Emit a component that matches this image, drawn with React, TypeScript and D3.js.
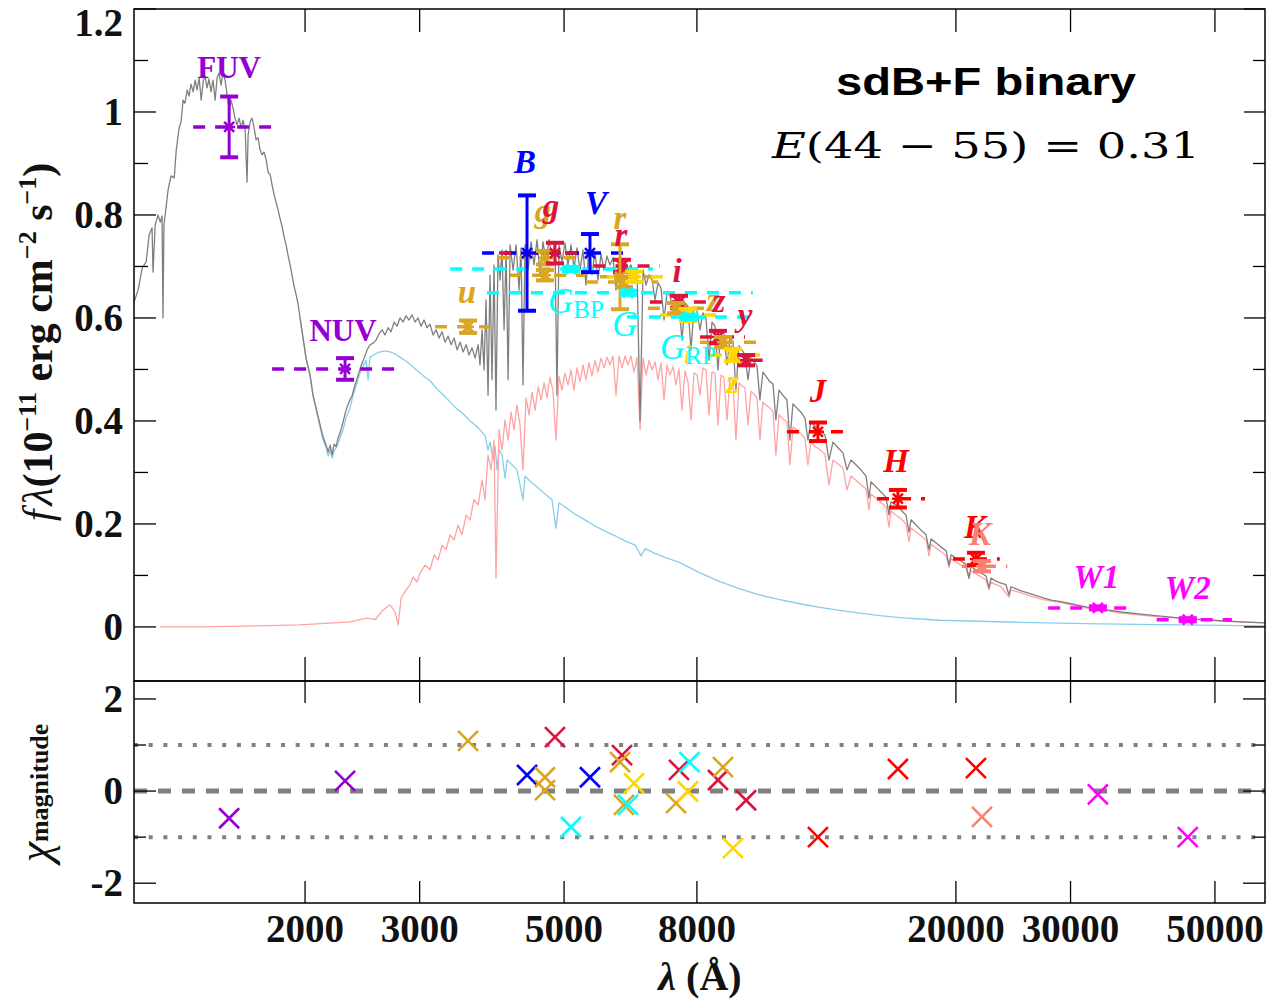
import React from "react";
import * as d3 from "d3";

// ---------------- DATA ----------------
// composite model (sdB + F), [wavelength Å, f_lambda 1e-11]
const compositeModel: [number, number][] = [[1092,0.631],[1108,0.654],[1124,0.697],[1140,0.709],[1152,0.761],[1164,0.775],[1168,0.689],[1177,0.781],[1189,0.800],[1198,0.786],[1206,0.798],[1210,0.600],[1214,0.781],[1223,0.814],[1232,0.849],[1245,0.876],[1259,0.872],[1268,0.926],[1281,0.969],[1290,0.981],[1299,1.023],[1308,1.017],[1318,1.043],[1327,1.031],[1336,1.054],[1346,1.039],[1356,1.062],[1365,1.043],[1375,1.066],[1385,1.023],[1395,1.060],[1404,1.070],[1414,1.047],[1424,1.064],[1434,1.039],[1444,1.062],[1455,1.023],[1465,1.066],[1475,1.076],[1486,1.052],[1496,1.078],[1507,1.062],[1518,1.033],[1529,1.004],[1539,1.023],[1550,1.008],[1561,0.988],[1572,0.975],[1584,0.988],[1595,0.969],[1606,0.984],[1618,0.965],[1629,0.864],[1635,0.955],[1647,0.981],[1658,0.988],[1670,0.969],[1682,0.946],[1694,0.950],[1706,0.926],[1718,0.917],[1730,0.922],[1743,0.907],[1755,0.883],[1768,0.878],[1780,0.858],[1793,0.839],[1805,0.825],[1818,0.810],[1830,0.794],[1843,0.779],[1856,0.759],[1870,0.742],[1883,0.722],[1897,0.703],[1910,0.683],[1924,0.662],[1938,0.645],[1951,0.627],[1965,0.600],[1986,0.561],[2007,0.522],[2036,0.489],[2057,0.450],[2087,0.417],[2110,0.392],[2132,0.369],[2155,0.353],[2170,0.340],[2186,0.353],[2201,0.334],[2217,0.355],[2232,0.350],[2248,0.367],[2264,0.377],[2288,0.398],[2312,0.421],[2337,0.437],[2362,0.449],[2387,0.470],[2413,0.489],[2438,0.507],[2465,0.522],[2491,0.538],[2517,0.548],[2544,0.551],[2571,0.557],[2598,0.569],[2626,0.577],[2654,0.567],[2683,0.581],[2711,0.573],[2740,0.592],[2769,0.584],[2799,0.600],[2829,0.592],[2859,0.604],[2890,0.596],[2920,0.606],[2951,0.592],[2983,0.600],[3015,0.584],[3047,0.596],[3079,0.581],[3112,0.588],[3146,0.567],[3179,0.577],[3213,0.561],[3247,0.573],[3282,0.553],[3317,0.565],[3353,0.548],[3389,0.561],[3425,0.538],[3462,0.553],[3499,0.534],[3536,0.548],[3573,0.528],[3611,0.542],[3650,0.522],[3689,0.548],[3714,0.509],[3741,0.577],[3767,0.499],[3794,0.635],[3821,0.450],[3848,0.683],[3875,0.480],[3903,0.703],[3930,0.421],[3958,0.722],[3987,0.674],[4015,0.732],[4044,0.577],[4073,0.732],[4102,0.480],[4131,0.742],[4175,0.693],[4219,0.742],[4264,0.654],[4294,0.736],[4324,0.470],[4355,0.742],[4402,0.693],[4449,0.748],[4496,0.703],[4544,0.752],[4592,0.684],[4641,0.748],[4691,0.709],[4741,0.752],[4791,0.717],[4842,0.746],[4876,0.450],[4911,0.742],[4963,0.709],[5016,0.746],[5070,0.703],[5124,0.742],[5178,0.697],[5234,0.736],[5290,0.693],[5346,0.732],[5403,0.664],[5461,0.732],[5519,0.684],[5578,0.728],[5638,0.674],[5698,0.724],[5759,0.693],[5820,0.720],[5883,0.703],[5945,0.717],[6009,0.654],[6073,0.713],[6138,0.684],[6203,0.709],[6269,0.693],[6336,0.703],[6404,0.674],[6473,0.697],[6542,0.400],[6612,0.693],[6683,0.664],[6754,0.684],[6826,0.674],[6898,0.635],[6972,0.668],[7046,0.658],[7121,0.596],[7197,0.650],[7273,0.643],[7351,0.616],[7429,0.639],[7508,0.631],[7588,0.557],[7670,0.629],[7751,0.623],[7834,0.538],[7918,0.619],[8002,0.614],[8087,0.577],[8174,0.610],[8261,0.600],[8349,0.518],[8438,0.592],[8528,0.584],[8619,0.499],[8710,0.577],[8804,0.569],[8897,0.509],[8992,0.561],[9088,0.553],[9185,0.460],[9283,0.546],[9383,0.538],[9483,0.528],[9584,0.480],[9686,0.522],[9790,0.515],[9894,0.507],[9998,0.441],[10105,0.495],[10213,0.487],[10358,0.476],[10469,0.472],[10580,0.402],[10694,0.460],[10845,0.450],[11000,0.441],[11117,0.363],[11236,0.433],[11397,0.425],[11558,0.417],[11722,0.406],[11848,0.363],[11974,0.398],[12145,0.390],[12362,0.383],[12583,0.373],[12763,0.324],[12945,0.359],[13176,0.348],[13412,0.338],[13603,0.305],[13797,0.324],[14043,0.315],[14294,0.305],[14550,0.293],[14704,0.250],[14810,0.282],[15075,0.272],[15344,0.262],[15618,0.252],[15785,0.217],[15898,0.243],[16182,0.237],[16471,0.227],[16765,0.217],[16941,0.184],[17065,0.208],[17370,0.198],[17680,0.188],[17996,0.179],[18180,0.150],[18318,0.171],[18645,0.163],[18979,0.155],[19318,0.148],[19514,0.120],[19663,0.140],[20000,0.134],[20357,0.128],[20720,0.122],[20940,0.095],[21091,0.117],[21468,0.111],[21852,0.105],[22242,0.099],[22480,0.076],[22640,0.095],[23045,0.089],[23457,0.085],[23876,0.082],[24130,0.062],[24303,0.078],[24737,0.074],[25179,0.070],[26086,0.064],[27025,0.058],[27998,0.052],[29007,0.049],[30052,0.045],[31130,0.041],[32250,0.037],[33410,0.035],[35850,0.029],[38480,0.025],[41290,0.021],[44320,0.017],[47560,0.014],[51060,0.012],[54790,0.010],[59690,0.008]];

// hot subdwarf (sdB) model
const sdbModel: [number, number][] = [[1965,0.600],[2007,0.522],[2036,0.487],[2057,0.449],[2087,0.414],[2110,0.386],[2132,0.363],[2155,0.348],[2170,0.332],[2186,0.344],[2201,0.328],[2217,0.342],[2239,0.350],[2264,0.367],[2288,0.383],[2312,0.406],[2345,0.425],[2370,0.450],[2404,0.474],[2430,0.493],[2456,0.507],[2482,0.518],[2500,0.480],[2517,0.524],[2563,0.530],[2608,0.534],[2655,0.536],[2702,0.534],[2750,0.530],[2799,0.524],[2869,0.515],[2931,0.505],[3004,0.493],[3058,0.485],[3112,0.478],[3191,0.462],[3271,0.449],[3341,0.437],[3425,0.423],[3499,0.414],[3585,0.400],[3650,0.392],[3714,0.383],[3781,0.371],[3821,0.344],[3848,0.359],[3889,0.324],[3917,0.351],[3945,0.305],[3972,0.344],[4015,0.334],[4058,0.289],[4087,0.324],[4159,0.315],[4233,0.305],[4324,0.247],[4355,0.293],[4433,0.283],[4544,0.272],[4674,0.258],[4791,0.247],[4859,0.192],[4911,0.241],[5016,0.233],[5197,0.219],[5384,0.208],[5578,0.196],[5780,0.186],[5988,0.177],[6203,0.167],[6428,0.159],[6566,0.138],[6659,0.152],[6898,0.143],[7146,0.135],[7534,0.125],[8087,0.105],[8679,0.088],[9315,0.074],[9998,0.062],[10730,0.053],[11517,0.045],[12360,0.038],[13266,0.032],[14238,0.027],[15282,0.022],[16402,0.018],[18894,0.013],[21765,0.011],[25072,0.009],[33270,0.006],[44149,0.004],[59690,0.002]];

// F-type companion model
const fStarModel: [number, number][] = [[1198,0.000],[1379,0.000],[1688,0.002],[1965,0.004],[2208,0.008],[2345,0.010],[2491,0.017],[2563,0.014],[2636,0.033],[2702,0.043],[2750,0.029],[2780,0.004],[2810,0.056],[2859,0.072],[2900,0.082],[2931,0.097],[2972,0.087],[3004,0.105],[3058,0.120],[3112,0.111],[3157,0.140],[3202,0.130],[3247,0.159],[3294,0.150],[3341,0.179],[3389,0.169],[3436,0.198],[3485,0.179],[3536,0.217],[3585,0.208],[3636,0.247],[3689,0.237],[3741,0.285],[3781,0.247],[3821,0.334],[3862,0.305],[3903,0.363],[3930,0.095],[3972,0.383],[4015,0.344],[4058,0.402],[4102,0.363],[4145,0.417],[4189,0.383],[4233,0.431],[4279,0.392],[4324,0.305],[4371,0.445],[4418,0.412],[4465,0.456],[4513,0.421],[4561,0.466],[4610,0.441],[4659,0.474],[4708,0.445],[4758,0.485],[4808,0.458],[4859,0.363],[4911,0.487],[4963,0.460],[5016,0.493],[5070,0.470],[5124,0.499],[5178,0.460],[5234,0.503],[5290,0.476],[5346,0.509],[5403,0.480],[5461,0.513],[5519,0.487],[5578,0.518],[5638,0.495],[5698,0.522],[5759,0.503],[5820,0.524],[5883,0.509],[5945,0.526],[6009,0.450],[6073,0.526],[6138,0.503],[6203,0.526],[6269,0.509],[6336,0.526],[6404,0.495],[6473,0.524],[6542,0.383],[6612,0.522],[6683,0.489],[6754,0.518],[6826,0.499],[6898,0.515],[6972,0.480],[7046,0.513],[7121,0.441],[7197,0.509],[7273,0.489],[7351,0.505],[7429,0.470],[7508,0.501],[7588,0.421],[7670,0.497],[7751,0.476],[7834,0.402],[7918,0.493],[8002,0.490],[8087,0.450],[8174,0.503],[8261,0.499],[8349,0.412],[8438,0.495],[8528,0.493],[8619,0.392],[8710,0.489],[8804,0.485],[8897,0.402],[8992,0.482],[9088,0.478],[9185,0.363],[9283,0.474],[9383,0.468],[9483,0.464],[9584,0.392],[9686,0.458],[9790,0.452],[9894,0.445],[9998,0.363],[10105,0.437],[10213,0.431],[10358,0.425],[10469,0.419],[10580,0.334],[10694,0.412],[10845,0.404],[11000,0.398],[11117,0.315],[11236,0.388],[11397,0.383],[11558,0.375],[11722,0.367],[11848,0.315],[11974,0.359],[12145,0.351],[12362,0.344],[12583,0.336],[12763,0.276],[12945,0.324],[13176,0.317],[13412,0.309],[13603,0.266],[13797,0.293],[14043,0.285],[14294,0.276],[14550,0.268],[14704,0.227],[14810,0.258],[15075,0.250],[15344,0.241],[15618,0.233],[15785,0.194],[15898,0.225],[16182,0.217],[16471,0.210],[16765,0.200],[16941,0.165],[17065,0.192],[17370,0.184],[17680,0.177],[17996,0.169],[18180,0.138],[18318,0.161],[18645,0.153],[18979,0.146],[19318,0.138],[19514,0.115],[19663,0.132],[20000,0.126],[20357,0.120],[20720,0.115],[20940,0.095],[21091,0.109],[21468,0.103],[21852,0.097],[22242,0.091],[22480,0.072],[22640,0.087],[23045,0.082],[23457,0.078],[24130,0.058],[24303,0.072],[25179,0.066],[26086,0.060],[27025,0.054],[27998,0.050],[29007,0.047],[30052,0.043],[31130,0.039],[32250,0.035],[33410,0.033],[35850,0.027],[38480,0.023],[41290,0.019],[44320,0.017],[47560,0.014],[51060,0.012],[54790,0.010],[59690,0.008]];

// photometry
const bandSurvey = ["GALEX","GALEX","SDSS","APASS","APASS","SDSS","SDSS","PS1","Gaia","PS1","SDSS","SDSS","SM","Gaia","PS1","SDSS","SM","Gaia","PS1","SDSS","SM","PS1","2MASS","2MASS","2MASS","VHS","WISE","WISE"];
const bandLambda = [1529,2304,3560,4386,5480,4674,4674,4842,5124,6138,6094,6180,6404,6269,7508,7429,7751,7792,8619,8773,9088,9520,12276,16290,21468,21930,33050,45420];
const bandFlux = [0.971,0.501,0.583,0.726,0.726,0.717,0.683,0.726,0.695,0.701,0.680,0.670,0.680,0.649,0.631,0.619,0.606,0.602,0.563,0.553,0.528,0.518,0.379,0.249,0.132,0.118,0.037,0.014];
const bandErr = [0.059,0.021,0.012,0.112,0.037,0.013,0.010,0.020,0.004,0.012,0.063,0.010,0.010,0.004,0.012,0.010,0.012,0.004,0.012,0.010,0.012,0.010,0.018,0.017,0.012,0.010,0.003,0.003];
const bandLo = [1346,1780,3168,3741,4674,3950,4131,3972,3342,5550,5678,5403,5820,3806,6774,6726,7020,6245,8087,8087,8379,8950,11000,15130,19790,20430,27720,40690];
const bandHi = [1780,2817,3945,5124,6358,5450,5384,5500,6848,7020,6898,6972,7219,9750,8400,8379,8679,9894,9483,9894,9998,10300,13603,17930,23360,23990,37470,53090];
const bandChi = [-0.59,0.22,1.09,0.35,0.30,0.30,0.02,1.17,-0.78,0.78,0.63,-0.30,0.17,-0.30,0.46,-0.26,-0.01,0.63,0.24,0.52,-1.24,-0.20,-1.00,0.48,0.50,-0.56,-0.07,-1.00];

// band labels (anchor in data units)
const labelText = ["FUV","NUV","u","B","g","g","V","r","r","i","z","z","y","z","i","J","H","K","K","W1","W2"];
const labelSurvey = ["GALEX","GALEX","SDSS","APASS","SDSS","PS1","APASS","SDSS","PS1","PS1","SDSS","PS1","PS1","SM","SM","2MASS","2MASS","2MASS","VHS","WISE","WISE"];
const labelLambda = [1529,2288,3547,4355,4643,4775,5598,6094,6115,7456,8470,8650,9483,9088,7751,12276,16180,21390,21770,32880,45420];
const labelFlux = [1.066,0.555,0.629,0.882,0.786,0.796,0.802,0.773,0.740,0.670,0.614,0.612,0.584,0.454,0.513,0.437,0.301,0.173,0.159,0.076,0.054];
const gaiaLabelMain = ["G","G","G"];
const gaiaLabelSub = ["BP","","RP"];
const gaiaLabelLambda = [4725,6203,7020];
const gaiaLabelFlux = [0.610,0.565,0.520];

const xTicks = [2000, 3000, 5000, 8000, 20000, 30000, 50000];
const yTopMajor = [0, 0.2, 0.4, 0.6, 0.8, 1.0, 1.2];
const yTopLabels = ["0", "0.2", "0.4", "0.6", "0.8", "1", "1.2"];
const yTopMinor = [0.1, 0.3, 0.5, 0.7, 0.9, 1.1];
const yBotMajor = [-2, 0, 2];
const yBotMinor = [-1, 1];

// ---------------- STYLE ----------------
const surveyColor: Record<string, string> = {
  GALEX: "#9400D3", APASS: "#0000FF", SDSS: "#DAA520", PS1: "#DC143C",
  Gaia: "#00FFFF", SM: "#FFD700", "2MASS": "#FF0000", VHS: "#FA8072", WISE: "#FF00FF",
};

const W = 1268, H = 999;
const L = 134, R = 1265, T = 9, MID = 681, B = 903;
const SERIF = "'Liberation Serif', 'Times New Roman', serif";

const x = d3.scaleLog().domain([1092, 59690]).range([L, R]);
const yT = d3.scaleLinear().domain([-0.105, 1.2]).range([MID, T]);
const yB = d3.scaleLinear().domain([-2.43, 2.39]).range([B, MID]);

const line = d3.line<[number, number]>().x(d => x(d[0])).y(d => yT(d[1]));

export default function App() {
  const ticksX = (yEdge: number, dir: number, len: number) =>
    xTicks.map(t => <line key={`${yEdge}-${t}`} x1={x(t)} x2={x(t)} y1={yEdge} y2={yEdge + dir * len} stroke="#000" strokeWidth={1.3} />);

  return (
    <svg width={W} height={H} style={{ position: "absolute", left: 0, top: 0, background: "#fff" }}>
      <defs>
        <clipPath id="clipTop"><rect x={L} y={T} width={R - L} height={MID - T} /></clipPath>
        <clipPath id="clipBot"><rect x={L} y={MID} width={R - L} height={B - MID} /></clipPath>
      </defs>
      <rect x={0} y={0} width={W} height={H} fill="#fff" />

      {/* spectra */}
      <g clipPath="url(#clipTop)" fill="none" strokeWidth={1.3} strokeLinejoin="round">
        <path d={line(sdbModel) || ""} stroke="#87CEEB" />
        <path d={line(fStarModel) || ""} stroke="#FFA3A3" />
        <path d={line(compositeModel) || ""} stroke="#7F7F7F" />
      </g>

      {/* photometry */}
      <g clipPath="url(#clipTop)">
        {bandLambda.map((lam, i) => {
          const c = surveyColor[bandSurvey[i]];
          const cy = yT(bandFlux[i]);
          return (
            <line key={`d${i}`} x1={x(bandLo[i])} x2={x(bandHi[i])} y1={cy} y2={cy}
              stroke={c} strokeWidth={3.5} strokeDasharray="12 10" />
          );
        })}
        {bandLambda.map((lam, i) => {
          const c = surveyColor[bandSurvey[i]];
          const cx = x(lam), cy = yT(bandFlux[i]);
          const y1 = yT(bandFlux[i] + bandErr[i]), y2 = yT(bandFlux[i] - bandErr[i]);
          return (
            <g key={`e${i}`} stroke={c}>
              <line x1={cx} x2={cx} y1={y1} y2={y2} strokeWidth={3} />
              <line x1={cx - 9} x2={cx + 9} y1={y1} y2={y1} strokeWidth={4} />
              <line x1={cx - 9} x2={cx + 9} y1={y2} y2={y2} strokeWidth={4} />
              <path d={`M${cx - 5},${cy - 5}L${cx + 5},${cy + 5}M${cx - 5},${cy + 5}L${cx + 5},${cy - 5}M${cx - 6},${cy}L${cx + 6},${cy}`} strokeWidth={2.5} />
            </g>
          );
        })}
      </g>

      {/* band labels */}
      <g fontFamily={SERIF} fontSize={33} textAnchor="middle">
        {labelText.map((t, i) => {
          const roman = t === "FUV" || t === "NUV";
          const small = labelSurvey[i] === "SM" && t === "i";
          return (
            <text key={`l${i}`} x={x(labelLambda[i])} y={yT(labelFlux[i])}
              fill={surveyColor[labelSurvey[i]]} fontWeight="bold"
              fontStyle={roman ? "normal" : "italic"} fontSize={roman ? 31 : small ? 26 : 33}>
              {t}
            </text>
          );
        })}
        {gaiaLabelMain.map((t, i) => (
          <text key={`gl${i}`} x={x(gaiaLabelLambda[i])} y={yT(gaiaLabelFlux[i])}
            fill={surveyColor.Gaia} textAnchor={gaiaLabelSub[i] ? "start" : "middle"} fontStyle="italic" fontSize={35}>
            {t}
            {gaiaLabelSub[i] ? <tspan fontStyle="normal" fontSize={25} dy={5}>{gaiaLabelSub[i]}</tspan> : null}
          </text>
        ))}
      </g>

      {/* residual panel reference lines */}
      <g clipPath="url(#clipBot)">
        <line x1={L} x2={R} y1={yB(0)} y2={yB(0)} stroke="#808080" strokeWidth={5} strokeDasharray="13 11" />
        {[1, -1].map(v => (
          <line key={`dot${v}`} x1={L} x2={R} y1={yB(v)} y2={yB(v)} stroke="#808080" strokeWidth={4} strokeDasharray="4 10.7" />
        ))}
        {bandLambda.map((lam, i) => {
          const cx = x(lam), cy = yB(bandChi[i]);
          return (
            <path key={`r${i}`} d={`M${cx - 10},${cy - 10}L${cx + 10},${cy + 10}M${cx - 10},${cy + 10}L${cx + 10},${cy - 10}`}
              stroke={surveyColor[bandSurvey[i]]} strokeWidth={2.6} fill="none" />
          );
        })}
      </g>

      {/* frames */}
      <rect x={L} y={T} width={R - L} height={MID - T} fill="none" stroke="#000" strokeWidth={1.5} />
      <rect x={L} y={MID} width={R - L} height={B - MID} fill="none" stroke="#000" strokeWidth={1.5} />

      {/* ticks */}
      {ticksX(T, 1, 23)}
      {ticksX(MID, -1, 24)}
      {ticksX(MID, 1, 22)}
      {ticksX(B, -1, 22)}
      {yTopMajor.map(v => (
        <g key={`ym${v}`} stroke="#000" strokeWidth={1.3}>
          <line x1={L} x2={L + 22} y1={yT(v)} y2={yT(v)} />
          <line x1={R} x2={R - 21} y1={yT(v)} y2={yT(v)} />
        </g>
      ))}
      {yTopMinor.map(v => (
        <g key={`yn${v}`} stroke="#000" strokeWidth={1.3}>
          <line x1={L} x2={L + 14} y1={yT(v)} y2={yT(v)} />
          <line x1={R} x2={R - 12} y1={yT(v)} y2={yT(v)} />
        </g>
      ))}
      {yBotMajor.map(v => (
        <g key={`bm${v}`} stroke="#000" strokeWidth={1.3}>
          <line x1={L} x2={L + 22} y1={yB(v)} y2={yB(v)} />
          <line x1={R} x2={R - 22} y1={yB(v)} y2={yB(v)} />
        </g>
      ))}
      {yBotMinor.map(v => (
        <g key={`bn${v}`} stroke="#000" strokeWidth={1.3}>
          <line x1={L} x2={L + 12} y1={yB(v)} y2={yB(v)} />
          <line x1={R} x2={R - 12} y1={yB(v)} y2={yB(v)} />
        </g>
      ))}

      {/* tick labels */}
      <g fontFamily={SERIF} fontWeight="bold" fontSize={39} fill="#111">
        {yTopMajor.map((v, i) => (
          <text key={`tl${v}`} x={123} y={Math.max(yT(v), 23) + 13} textAnchor="end">{yTopLabels[i]}</text>
        ))}
        {yBotMajor.map(v => (
          <text key={`bl${v}`} x={123} y={yB(v) + 13} textAnchor="end">{v}</text>
        ))}
        {xTicks.map(t => (
          <text key={`xl${t}`} x={x(t)} y={942} textAnchor="middle">{t}</text>
        ))}
      </g>

      {/* axis titles */}
      <text transform="translate(52,342) rotate(-90)" textAnchor="middle" fontFamily={SERIF} fontWeight="bold" fontSize={42} fill="#111">
        <tspan fontStyle="italic" fontWeight="normal">f</tspan>
        <tspan fontStyle="italic" fontWeight="normal" dx={4}>λ</tspan>
        <tspan>(10</tspan>
        <tspan fontSize={26} dy={-16}>−11</tspan>
        <tspan dy={16}> erg cm</tspan>
        <tspan fontSize={26} dy={-16}>−2</tspan>
        <tspan dy={16}> s</tspan>
        <tspan fontSize={26} dy={-16}>−1</tspan>
        <tspan dy={16}>)</tspan>
      </text>
      <text transform="translate(50,793) rotate(-90)" textAnchor="middle" fontFamily={SERIF} fill="#111">
        <tspan fontStyle="italic" fontSize={46}>χ</tspan>
        <tspan fontWeight="bold" fontSize={26} dy={-2}>magnitude</tspan>
      </text>
      <text x={700} y={990} textAnchor="middle" fontFamily={SERIF} fontWeight="bold" fontSize={40} fill="#111">
        <tspan fontStyle="italic">λ</tspan>
        <tspan> (Å)</tspan>
      </text>

      {/* annotation */}
      <text x={836} y={95} fontFamily="'Liberation Sans', Arial, sans-serif" fontWeight="bold" fontSize={39}
        textLength={300} lengthAdjust="spacingAndGlyphs" fill="#000">sdB+F binary</text>
      <text x={772} y={158} fontFamily="'DejaVu Serif', serif" fontSize={36} textLength={428}
        lengthAdjust="spacingAndGlyphs" fill="#000">
        <tspan fontStyle="italic">E</tspan>(44 − 55) = 0.31
      </text>
    </svg>
  );
}
